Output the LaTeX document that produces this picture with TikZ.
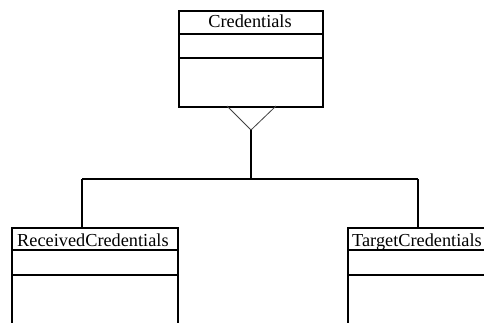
\documentclass[tikz,border=0pt]{standalone}
\usepackage{fontspec}
\setmainfont{Liberation Serif}
\begin{document}
\begin{tikzpicture}[x=1pt,y=-1pt,
  classbox/.style={draw, line width=1.6pt, minimum width=#1, inner sep=0pt, anchor=north west},
  lbl/.style={font=\fontsize{18.3}{20}\selectfont, inner sep=0pt, anchor=base},
  lbll/.style={font=\fontsize{18.3}{20}\selectfont, inner sep=0pt, anchor=base west},
  conn/.style={line width=1.6pt},
  gen/.style={line width=0.8pt, draw=black!75}]
\useasboundingbox (0,0) rectangle (484,322);
\clip (0,0) rectangle (484,322);
% Credentials
\node[classbox=144pt, minimum height=96pt] (cred) at (178,10) {};
\draw[conn] (178,34) -- (322,34);
\draw[conn] (178,58) -- (322,58);
\node[lbl] (credt) at (250,27) {Credentials};
% ReceivedCredentials
\node[classbox=166pt, minimum height=120pt] (recv) at (11,227) {};
\draw[conn] (11,250) -- (177,250);
\draw[conn] (11,275) -- (177,275);
\node[lbll] (recvt) at (17,246) {ReceivedCredentials};
% TargetCredentials
\node[classbox=166pt, minimum height=120pt] (targ) at (347,227) {};
\draw[conn] (347,250) -- (513,250);
\draw[conn] (347,275) -- (513,275);
\node[lbll] (targt) at (352,246) {TargetCredentials};
% generalization
\coordinate (apex) at (251,130);
\coordinate (tl) at (227,106);
\coordinate (tr) at (276,106);
\draw[gen] (tl) -- (apex) -- (tr);
\coordinate (junc) at (251,179);
\coordinate (jl) at (82,179);
\coordinate (jr) at (418,179);
\draw[conn] (apex) -- (junc);
\draw[conn] (jl) -- (jr);
\draw[conn] (jl) -- (jl |- recv.north);
\draw[conn] (jr) -- (jr |- targ.north);
\end{tikzpicture}
\end{document}
